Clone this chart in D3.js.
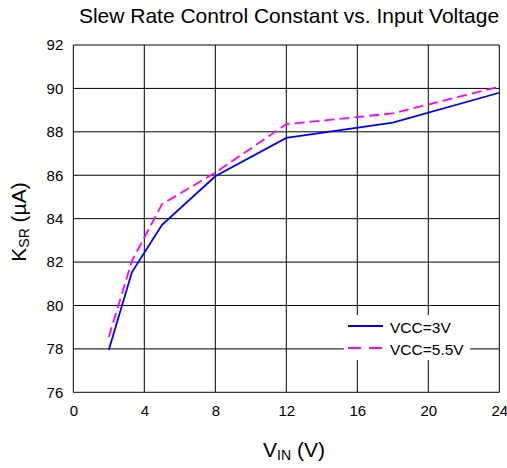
<!DOCTYPE html>
<html><head><meta charset="utf-8">
<script src="https://cdn.jsdelivr.net/npm/d3@7"></script>
<style>body{margin:0;background:#fff}svg{display:block}text{font-family:"Liberation Sans",Arial,sans-serif;fill:#000}</style>
</head><body><svg id="c" width="507" height="468"></svg>
<script>
const vin3 = [2, 3.3, 5, 8, 12, 18, 24];
const ksr3 = [77.95, 81.53, 83.72, 85.95, 87.72, 88.42, 89.8];
const vin55 = [2, 3.3, 5, 8, 12, 18, 24];
const ksr55 = [78.55, 82.05, 84.67, 86.12, 88.35, 88.85, 90.08];
const xTicks = [0, 4, 8, 12, 16, 20, 24];
const yTicks = [76, 78, 80, 82, 84, 86, 88, 90, 92];
const seriesNames = ["VCC=3V", "VCC=5.5V"];

const svg = d3.select("#c");
const L = 73.3, R = 499.3, T = 45, B = 392.3;
const x = d3.scaleLinear().domain([0, 24]).range([L, R]);
const y = d3.scaleLinear().domain([76, 92]).range([B, T]);
const FF = '"Liberation Sans",Arial,sans-serif';

// grid
svg.append("g").selectAll("line").data(xTicks).join("line")
  .attr("x1", d => x(d)).attr("x2", d => x(d)).attr("y1", T).attr("y2", B)
  .attr("stroke", "#000").attr("stroke-width", 1);
svg.append("g").selectAll("line").data(yTicks).join("line")
  .attr("y1", d => y(d)).attr("y2", d => y(d)).attr("x1", L).attr("x2", R)
  .attr("stroke", "#000").attr("stroke-width", 1);

// axes labels via d3 axes
const xAxis = svg.append("g").attr("transform", `translate(0,${B})`)
  .call(d3.axisBottom(x).tickValues(xTicks).tickSize(0).tickPadding(13));
xAxis.select(".domain").remove();
xAxis.selectAll("text").style("font-size", "15px").style("font-family", FF).attr("fill", "#000");
const yAxis = svg.append("g").attr("transform", `translate(${L},0)`)
  .call(d3.axisLeft(y).tickValues(yTicks).tickSize(0).tickPadding(10));
yAxis.select(".domain").remove();
yAxis.selectAll("text").style("font-size", "15px").style("font-family", FF).attr("fill", "#000");

// lines
const line = d3.line().x(d => x(d[0])).y(d => y(d[1]));
svg.append("path").datum(vin3.map((v, i) => [v, ksr3[i]])).attr("d", line)
  .attr("fill", "none").attr("stroke", "#0000ff").attr("stroke-width", 1.8);
svg.append("path").datum(vin55.map((v, i) => [v, ksr55[i]])).attr("d", line)
  .attr("fill", "none").attr("stroke", "#ff00ff").attr("stroke-width", 1.8)
  .attr("stroke-dasharray", "10,5");

// legend
const lg = svg.append("g");
lg.append("rect").attr("x", 344).attr("y", 315).attr("width", 126).attr("height", 45).attr("fill", "#fff");
lg.append("line").attr("x1", 348).attr("x2", 383).attr("y1", 326).attr("y2", 326).attr("stroke", "#0000ff").attr("stroke-width", 1.8);
lg.append("line").attr("x1", 348).attr("x2", 383).attr("y1", 348).attr("y2", 348).attr("stroke", "#ff00ff").attr("stroke-width", 1.8).attr("stroke-dasharray", "13,8");
lg.append("text").attr("x", 390).attr("y", 333).style("font-size", "15.5px").text(seriesNames[0]);
lg.append("text").attr("x", 390).attr("y", 355).style("font-size", "15.5px").text(seriesNames[1]);

// title
svg.append("text").attr("x", 289).attr("y", 23).attr("text-anchor", "middle").style("font-size", "21px")
  .text("Slew Rate Control Constant vs. Input Voltage");

// x title
const xt = svg.append("text").attr("x", 294).attr("y", 457).attr("text-anchor", "middle").style("font-size", "21px");
xt.append("tspan").text("V");
xt.append("tspan").attr("dy", 3).style("font-size", "14px").text("IN");
xt.append("tspan").attr("dy", -3).text(" (V)");

// y title
const yt = svg.append("text").attr("transform", "translate(26,222) rotate(-90)").attr("text-anchor", "middle").style("font-size", "21px");
yt.append("tspan").text("K");
yt.append("tspan").attr("dy", 3).style("font-size", "14px").text("SR");
yt.append("tspan").attr("dy", -3).text(" (µA)");
</script></body></html>
